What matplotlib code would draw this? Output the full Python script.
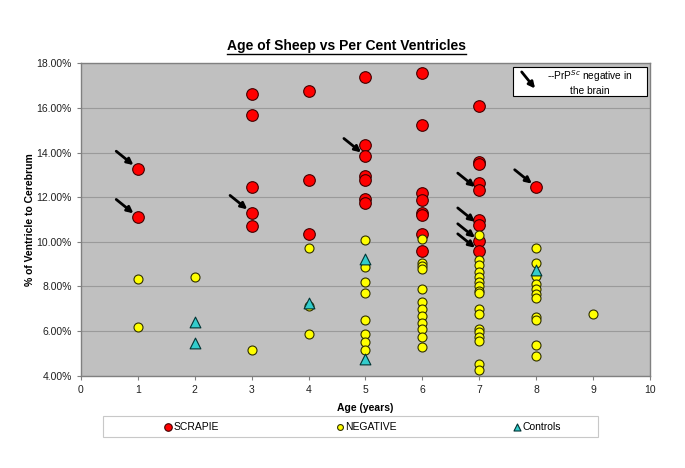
import matplotlib
matplotlib.use("Agg")
import matplotlib.pyplot as plt
from matplotlib.lines import Line2D
from matplotlib.patches import Rectangle

plt.rcParams['font.family'] = ['Liberation Sans', 'DejaVu Sans']

# ---------------- data ----------------
scrapie_x = [1, 1,
             3, 3, 3, 3, 3,
             4, 4, 4,
             5, 5, 5, 5, 5, 5, 5,
             6, 6, 6, 6, 6, 6, 6, 6,
             7, 7, 7, 7, 7, 7, 7, 7, 7,
             8]
scrapie_y = [13.28, 11.12,
             16.62, 15.67, 12.47, 11.30, 10.72,
             16.77, 12.78, 10.35,
             17.38, 14.33, 13.85, 12.93, 12.75, 11.93, 11.75,
             17.57, 15.25, 12.20, 11.87, 11.30, 11.22, 10.35, 9.58,
             16.10, 13.58, 13.48, 12.62, 12.30, 10.98, 10.74, 10.03, 9.58,
             12.45]

negative_x = [1, 1,
              2,
              3,
              4, 4, 4,
              5, 5, 5, 5, 5, 5, 5, 5,
              6, 6, 6, 6, 6, 6, 6, 6, 6, 6, 6, 6,
              7, 7, 7, 7, 7, 7, 7, 7, 7, 7, 7, 7, 7, 7, 7, 7, 7,
              8, 8, 8, 8, 8, 8, 8, 8, 8, 8, 8,
              9]
negative_y = [8.35, 6.20,
              8.42,
              5.15,
              9.73, 7.12, 5.85,
              10.08, 8.88, 8.18, 7.70, 6.50, 5.85, 5.50, 5.17,
              10.14, 9.06, 8.92, 8.78, 7.89, 7.29, 7.00, 6.70, 6.35, 6.10, 5.75, 5.31,
              10.29, 9.17, 8.94, 8.64, 8.42, 8.19, 8.04, 7.82, 7.70, 7.00, 6.78, 6.10, 5.95, 5.76, 5.58, 4.52, 4.25,
              9.72, 9.05, 8.49, 8.09, 7.90, 7.67, 7.49, 6.64, 6.52, 5.40, 4.87,
              6.78]

controls_x = [2, 2, 4, 5, 5, 8]
controls_y = [6.42, 5.45, 7.28, 9.22, 4.75, 8.72]

# PrP^Sc negative (arrowed) scrapie points
arrow_x = [1, 1, 3, 5, 7, 7, 7, 7, 8]
arrow_y = [13.28, 11.12, 11.30, 13.85, 12.30, 10.74, 10.03, 9.58, 12.45]

x_ticks = list(range(0, 11))
y_ticks = [4, 6, 8, 10, 12, 14, 16, 18]

title = "Age of Sheep vs Per Cent Ventricles"
x_label = "Age (years)"
y_label = "% of Ventricle to Cerebrum"
series_names = ["SCRAPIE", "NEGATIVE", "Controls"]

# ---------------- figure ----------------
fig = plt.figure(figsize=(6.85, 4.68), dpi=100)
fig.patch.set_facecolor('white')
ax = fig.add_axes([0.118, 0.197, 0.831, 0.668])
ax.set_facecolor('#C0C0C0')

ax.set_xlim(0, 10)
ax.set_ylim(4, 18)
ax.set_xticks(x_ticks)
ax.set_yticks(y_ticks)
ax.set_yticklabels([f"{v:.2f}%" for v in y_ticks])
ax.yaxis.grid(True, color='#9A9A9A', linewidth=0.8)
ax.set_axisbelow(True)
for s in ax.spines.values():
    s.set_color('#808080')
    s.set_linewidth(1.0)
ax.tick_params(axis='both', labelsize=7.5, colors='#808080', labelcolor='#202020',
               length=3, width=0.8)

ax.scatter(scrapie_x, scrapie_y, s=70, c='#FF0000', edgecolors='#400000',
           linewidths=0.8, zorder=3, label=series_names[0])
ax.scatter(negative_x, negative_y, s=42, c='#FFFF00', edgecolors='#303000',
           linewidths=0.8, zorder=4, label=series_names[1])
ax.scatter(controls_x, controls_y, s=60, c='#33CCCC', marker='^',
           edgecolors='#003333', linewidths=0.8, zorder=5, label=series_names[2])

for xa, ya in zip(arrow_x, arrow_y):
    ax.annotate('', xy=(xa, ya), xycoords='data',
                xytext=(-15.5, 12.5), textcoords='offset points',
                arrowprops=dict(arrowstyle='-|>', color='black', lw=2.0,
                                mutation_scale=9, shrinkA=0, shrinkB=4),
                zorder=6)

# in-plot key box
ax.add_patch(Rectangle((0.759, 0.895), 0.235, 0.093, transform=ax.transAxes,
                       facecolor='white', edgecolor='black', linewidth=0.8, zorder=7))
ax.annotate('', xy=(0.798, 0.919), xycoords='axes fraction',
            xytext=(0.7745, 0.972), textcoords='axes fraction',
            arrowprops=dict(arrowstyle='-|>', color='black', lw=2.0,
                            mutation_scale=9, shrinkA=0, shrinkB=0),
            zorder=8)
ax.text(0.895, 0.940, "--PrP$^{Sc}$ negative in\nthe brain", transform=ax.transAxes,
        ha='center', va='center', fontsize=7.3, zorder=8, linespacing=1.3)

# labels
ax.set_xlabel(x_label, fontsize=7.5, fontweight='bold', labelpad=6)
fig.text(0.044, 0.531, y_label, rotation=90, ha='center', va='center',
         fontsize=7.5, fontweight='bold')
t = fig.text(0.506, 0.902, title, ha='center', va='center',
             fontsize=10, fontweight='bold')

# legend
fig.patches.append(Rectangle((0.150, 0.066), 0.723, 0.045, transform=fig.transFigure,
                             facecolor='white', edgecolor='#C8C8C8', linewidth=0.8))
leg = fig.legend(loc='center', bbox_to_anchor=(0.530, 0.0885), ncol=3, frameon=False,
                 fontsize=7.5, handlelength=0.7, handletextpad=0.2,
                 columnspacing=11.2, markerscale=0.65)

# underline title
fig.canvas.draw()
bb = t.get_window_extent().transformed(fig.transFigure.inverted())
fig.add_artist(Line2D([bb.x0, bb.x1], [bb.y0 - 0.002, bb.y0 - 0.002],
                      transform=fig.transFigure, color='black', linewidth=1.0))

fig.savefig('out.png', dpi=100)
